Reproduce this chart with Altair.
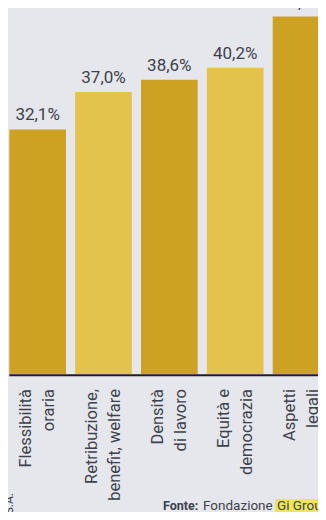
import altair as alt
import pandas as pd

categories = ["Flessibilità\noraria", "Retribuzione,\nbenefit, welfare", "Densità\ndi lavoro",
              "Equità e\ndemocrazia", "Aspetti\nlegali"]
values = [32.1, 37.0, 38.6, 40.2, 46.9]
labels = ["32,1%", "37,0%", "38,6%", "40,2%", "46,9%"]
shades = ["dark", "light", "dark", "light", "dark"]

BG = "#e5e7ec"
TXT = "#3d414b"
FONT = "Roboto"

df = pd.DataFrame({
    "idx": list(range(len(categories))),
    "cat": categories,
    "val": values,
    "lab": labels,
    "shade": shades,
})
df["x0"] = df["idx"] - 0.4305
df["x1"] = df["idx"] + 0.4305

W, H = 310, 504
xs = alt.Scale(domain=[-0.4503, 4.2574], nice=False, zero=False)
ys = alt.Scale(domain=[-18.11, 48.03], nice=False, zero=False)

base = alt.Chart(df)

bars = base.mark_bar(clip=True).encode(
    x=alt.X("x0:Q", scale=xs, axis=None),
    x2="x1:Q",
    y=alt.Y("val:Q", scale=ys, axis=None),
    y2=alt.datum(0),
    color=alt.Color("shade:N", scale=alt.Scale(domain=["dark", "light"], range=["#cda222", "#e3c34b"]), legend=None),
)

baseline = alt.Chart(pd.DataFrame({"a": [0]})).mark_rule(color="#1e1e1e", strokeWidth=2).encode(
    x=alt.datum(-0.4305, scale=xs),
    x2=alt.datum(4.2574),
    y=alt.datum(-0.17, scale=ys),
)

vals = base.mark_text(font=FONT, fontSize=17, color=TXT, baseline="alphabetic", align="center", dy=-9).encode(
    x=alt.X("idx:Q", scale=xs),
    y=alt.Y("val:Q", scale=ys),
    text="lab:N",
)

cats = base.mark_text(font=FONT, fontSize=16.5, color=TXT, angle=270, align="right", baseline="middle",
                      lineBreak="\n", lineHeight=23, xOffset=-11.5, dx=-15).encode(
    x=alt.X("idx:Q", scale=xs),
    y=alt.datum(0, scale=ys),
    text="cat:N",
)

ann = pd.DataFrame({"a": [0]})
highlight = alt.Chart(ann).mark_rect(color="#efe55a").encode(
    x=alt.value(267), x2=alt.value(310), y=alt.value(491), y2=alt.value(504),
)
fonte = alt.Chart(ann).mark_text(font=FONT, fontSize=12.5, fontWeight="bold", color=TXT, align="left",
                                 baseline="alphabetic").encode(
    x=alt.value(155), y=alt.value(502), text=alt.value("Fonte:"),
)
fond = alt.Chart(ann).mark_text(font=FONT, fontSize=13.5, color=TXT, align="left",
                                baseline="alphabetic").encode(
    x=alt.value(195), y=alt.value(502), text=alt.value("Fondazione"),
)
gi = alt.Chart(ann).mark_text(font=FONT, fontSize=13.5, color=TXT, align="left",
                              baseline="alphabetic").encode(
    x=alt.value(269), y=alt.value(502), text=alt.value("Gi Group"),
)
sa = alt.Chart(ann).mark_text(font=FONT, fontSize=12, color=TXT, angle=270, align="right",
                              baseline="alphabetic").encode(
    x=alt.value(5), y=alt.value(485), text=alt.value("S.A."),
)

chart = alt.layer(bars, baseline, vals, cats, highlight, fonte, fond, gi, sa).properties(
    width=W, height=H, background=BG, padding=0,
    autosize=alt.AutoSizeParams(type="none"),
).configure_view(stroke=None)

chart.save("out.html", embed_options={"renderer": "svg", "actions": False})
